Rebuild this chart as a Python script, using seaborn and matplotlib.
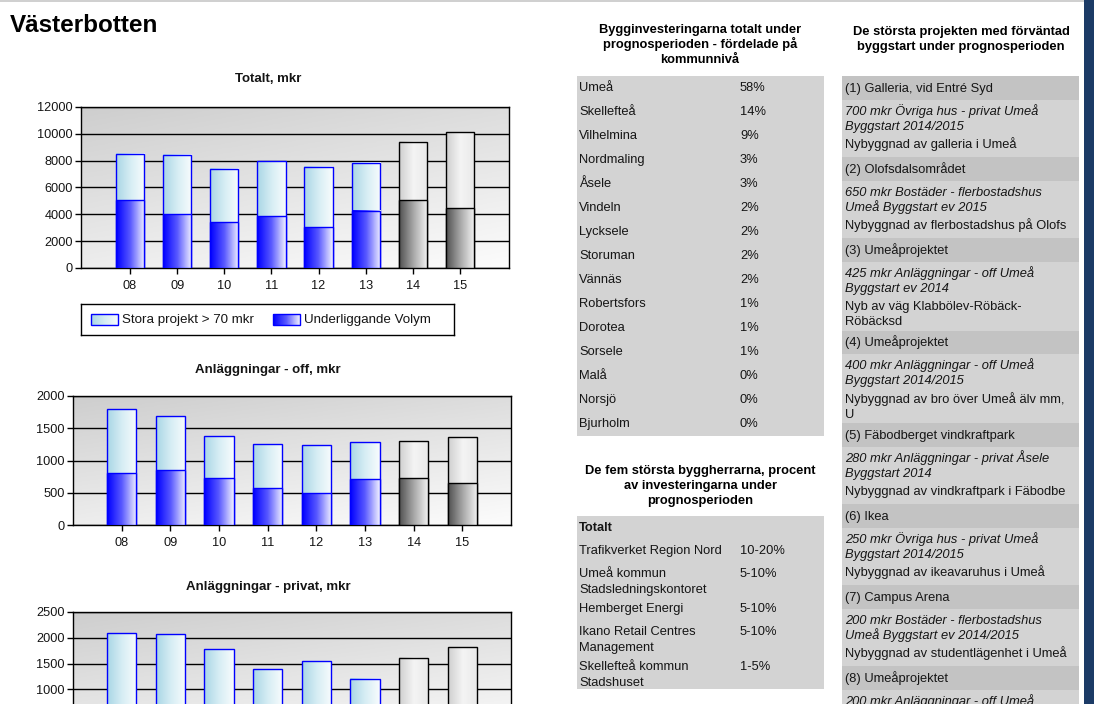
import numpy as np
import matplotlib
matplotlib.use("Agg")
import matplotlib.pyplot as plt
from matplotlib.colors import LinearSegmentedColormap
from matplotlib.patches import Rectangle
import seaborn as sns

plt.rcParams['font.family'] = ['Liberation Sans', 'DejaVu Sans']

# ---- data ----
years = ['08', '09', '10', '11', '12', '13', '14', '15']
prognos = [0, 0, 0, 0, 0, 0, 1, 1]   # 14 and 15 are forecast years (grey)

tot_under = [5050, 4000, 3400, 3850, 3050, 4250, 5050, 4450]
tot_stora = [3450, 4450, 4000, 4100, 4500, 3600, 4350, 5650]

off_under = [800, 850, 725, 570, 495, 710, 725, 650]
off_stora = [995, 835, 650, 685, 740, 575, 575, 710]

priv_under = [620, 580, 520, 450, 480, 400, 520, 540]
priv_stora = [1470, 1490, 1260, 940, 1065, 810, 1090, 1280]

kommuner = ['Umeå', 'Skellefteå', 'Vilhelmina', 'Nordmaling', 'Åsele', 'Vindeln',
            'Lycksele', 'Storuman', 'Vännäs', 'Robertsfors', 'Dorotea', 'Sorsele',
            'Malå', 'Norsjö', 'Bjurholm']
kommun_pct = ['58%', '14%', '9%', '3%', '3%', '2%', '2%', '2%', '2%', '1%', '1%',
              '1%', '0%', '0%', '0%']

byggherrar = ['Trafikverket Region Nord', 'Umeå kommun\nStadsledningskontoret',
              'Hemberget Energi', 'Ikano Retail Centres\nManagement',
              'Skellefteå kommun\nStadshuset']
byggherre_pct = ['10-20%', '5-10%', '5-10%', '5-10%', '1-5%']

projekt = ['(1) Galleria, vid Entré Syd', '(2) Olofsdalsområdet', '(3) Umeåprojektet',
           '(4) Umeåprojektet', '(5) Fäbodberget vindkraftpark', '(6) Ikea',
           '(7) Campus Arena', '(8) Umeåprojektet']
projekt_info = ['700 mkr Övriga hus - privat Umeå\nByggstart 2014/2015',
                '650 mkr Bostäder - flerbostadshus\nUmeå Byggstart ev 2015',
                '425 mkr Anläggningar - off Umeå\nByggstart ev 2014',
                '400 mkr Anläggningar - off Umeå\nByggstart 2014/2015',
                '280 mkr Anläggningar - privat Åsele\nByggstart 2014',
                '250 mkr Övriga hus - privat Umeå\nByggstart 2014/2015',
                '200 mkr Bostäder - flerbostadshus\nUmeå Byggstart ev 2014/2015',
                '200 mkr Anläggningar - off Umeå']
projekt_text = ['Nybyggnad av galleria i Umeå',
                'Nybyggnad av flerbostadshus på Olofs',
                'Nyb av väg Klabbölev-Röbäck-\nRöbäcksd',
                'Nybyggnad av bro över Umeå älv mm,\nU',
                'Nybyggnad av vindkraftpark i Fäbodbe',
                'Nybyggnad av ikeavaruhus i Umeå',
                'Nybyggnad av studentlägenhet i Umeå',
                '']

# ---- figure, everything laid out in pixels ----
W, H = 1094, 704
fig = plt.figure(figsize=(W / 100, H / 100), dpi=100)
fig.patch.set_facecolor('white')

bg = fig.add_axes([0, 0, 1, 1], zorder=0)
bg.set_xlim(0, W)
bg.set_ylim(H, 0)
bg.axis('off')

TXT = '#151515'
FS = 9.3
BL = 4.6   # from the middle of a text line down to its baseline, px


def px(x0, y0, x1, y1):
    return [x0 / W, 1 - y1 / H, (x1 - x0) / W, (y1 - y0) / H]


def cmap_of(*cols):
    return LinearSegmentedColormap.from_list('', list(cols))


def line(x, y, s, **kw):
    # y is the middle of the line; put all texts on a common baseline
    kw.setdefault('fontsize', FS)
    kw.setdefault('color', TXT)
    bg.text(x, y + BL, s, va='baseline', **kw)


c_stora = cmap_of('#a9d6e5', '#d6edf4', '#f8fcfd')
c_under = cmap_of('#0000ff', '#5a5aff', '#f0f0ff')
c_prog_top = cmap_of('#cfcfcf', '#f4f4f4', '#e9e9e9')
c_prog_low = cmap_of('#505050', '#a8a8a8', '#f4f4f4')
c_back = cmap_of('#cecece', '#fcfcfc')
hgrad = np.linspace(0, 1, 64).reshape(1, -1)


def shade(ax, p, cmap, edge, z):
    x, y, w, h = p.get_x(), p.get_y(), p.get_width(), p.get_height()
    ax.imshow(hgrad, cmap=cmap, extent=[x, x + w, y, y + h], aspect='auto',
              interpolation='bilinear', zorder=z)
    p.set_facecolor('none')
    p.set_edgecolor(edge)
    p.set_linewidth(1)
    p.set_zorder(z + 0.1)


def chart(rect, under, stora, ymax, ticks, pad, xlabels=True):
    ax = fig.add_axes(px(*rect), zorder=2)
    total = [u + s for u, s in zip(under, stora)]
    n = len(years)
    sns.barplot(x=years, y=total, ax=ax, width=0.6, errorbar=None, color='white', saturation=1)
    sns.barplot(x=years, y=under, ax=ax, width=0.6, errorbar=None, color='white', saturation=1)
    for i, (p, q) in enumerate(zip(ax.patches[:n], ax.patches[n:2 * n])):
        if prognos[i]:
            shade(ax, p, c_prog_top, 'black', 3)
            shade(ax, q, c_prog_low, 'black', 4)
        else:
            shade(ax, p, c_stora, '#0000ff', 3)
            shade(ax, q, c_under, '#0000ff', 4)
    gy, gx = np.mgrid[0:1:100j, 0:1:100j]
    ax.imshow(0.68 * gy + 0.32 * gx, cmap=c_back, extent=[0, 1, 0, 1], transform=ax.transAxes,
              aspect='auto', zorder=0)
    ax.set_xlim(-pad, n - 1 + pad)
    ax.set_ylim(0, ymax)
    ax.set_yticks(ticks)
    ax.set_yticklabels([str(int(t)) for t in ticks])
    ax.yaxis.grid(True, color='black', lw=1, zorder=1)
    ax.xaxis.grid(False)
    ax.set_axisbelow(True)
    ax.set_xlabel('')
    ax.set_ylabel('')
    for s in ax.spines.values():
        s.set_color('black')
        s.set_linewidth(1)
    ax.tick_params(axis='both', length=4, width=1, direction='out', colors='black',
                   labelsize=9.2, labelcolor=TXT)
    ax.tick_params(axis='y', pad=2)
    ax.tick_params(axis='x', pad=5, labelbottom=xlabels)
    return ax


# page decorations
bg.add_patch(Rectangle((0, 0), 1084, 2, fc='#d0d0d0', ec='none'))
bg.add_patch(Rectangle((1084, 0), 10, H, fc='#1c3b66', ec='none'))
bg.text(10, 26, 'Västerbotten', fontsize=17.5, fontweight='bold', color='black',
        va='center', ha='left')

# charts
bg.text(268, 79, 'Totalt, mkr', fontsize=9.5, fontweight='bold', color=TXT, ha='center', va='center')
chart((81, 107, 509, 268), tot_under, tot_stora, 12000, np.arange(0, 12001, 2000), 1.04)

bg.text(268, 370, 'Anläggningar - off, mkr', fontsize=9.5, fontweight='bold', color=TXT,
        ha='center', va='center')
chart((73, 396, 511, 525), off_under, off_stora, 2000, np.arange(0, 2001, 500), 1.0)

bg.text(268, 587, 'Anläggningar - privat, mkr', fontsize=9.5, fontweight='bold', color=TXT,
        ha='center', va='center')
chart((73, 612, 511, 741), priv_under, priv_stora, 2500, np.arange(1000, 2501, 500), 1.0,
      xlabels=False)

# legend of the first chart
lg = fig.add_axes(px(81, 304, 454, 335), zorder=2)
lg.set_xticks([])
lg.set_yticks([])
for s in lg.spines.values():
    s.set_color('black')
    s.set_linewidth(1)
for x0, cm, label in [(91, c_stora, 'Stora projekt > 70 mkr'), (273, c_under, 'Underliggande Volym')]:
    lg.imshow(hgrad, cmap=cm, extent=[x0, x0 + 27, 325, 314], aspect='auto', interpolation='bilinear')
    lg.add_patch(Rectangle((x0, 314), 27, 11, fc='none', ec='#0000ff', lw=1))
    lg.text(x0 + 31, 320, label, fontsize=9.6, color=TXT, va='center', ha='left')
lg.set_xlim(81, 454)
lg.set_ylim(335, 304)

# table: kommuner
for i, t in enumerate(['Bygginvesteringarna totalt under', 'prognosperioden - fördelade på', 'kommunnivå']):
    line(700, 28 + 15 * i, t, fontweight='bold', color='black', ha='center')
bg.add_patch(Rectangle((577, 76), 247, 360, fc='#d3d3d3', ec='none'))
for i, (k, pct) in enumerate(zip(kommuner, kommun_pct)):
    line(579, 86 + 24 * i, k)
    line(740, 86 + 24 * i, pct)

# table: byggherrar
for i, t in enumerate(['De fem största byggherrarna, procent', 'av investeringarna under', 'prognosperioden']):
    line(700, 469 + 15 * i, t, fontweight='bold', color='black', ha='center')
bg.add_patch(Rectangle((577, 516), 247, 173, fc='#d3d3d3', ec='none'))
line(579, 526, 'Totalt', fontweight='bold')
y = 549
for name, pct in zip(byggherrar, byggherre_pct):
    rows = name.split('\n')
    for j, r in enumerate(rows):
        line(579, y + 16 * j, r)
    line(740, y, pct)
    y += 23 if len(rows) == 1 else 35

# table: projekt
for i, t in enumerate(['De största projekten med förväntad', 'byggstart under prognosperioden']):
    line(961, 30 + 15 * i, t, fontweight='bold', color='black', ha='center')
y = 76
for name, info, desc in zip(projekt, projekt_info, projekt_text):
    bg.add_patch(Rectangle((842, y), 237, 23.5, fc='#c3c3c3', ec='none'))
    line(845, y + 11, name)
    y += 23.5
    d = desc.split('\n')
    h = 57.5 if len(d) == 1 else 69
    bg.add_patch(Rectangle((842, y), 237, h, fc='#d3d3d3', ec='none'))
    for j, r in enumerate(info.split('\n')):
        line(845, y + 10.5 + 15 * j, r, style='italic')
    for j, r in enumerate(d):
        if r:
            line(845, y + 44 + 15 * j, r)
    y += h

fig.savefig('out.png', dpi=100)
